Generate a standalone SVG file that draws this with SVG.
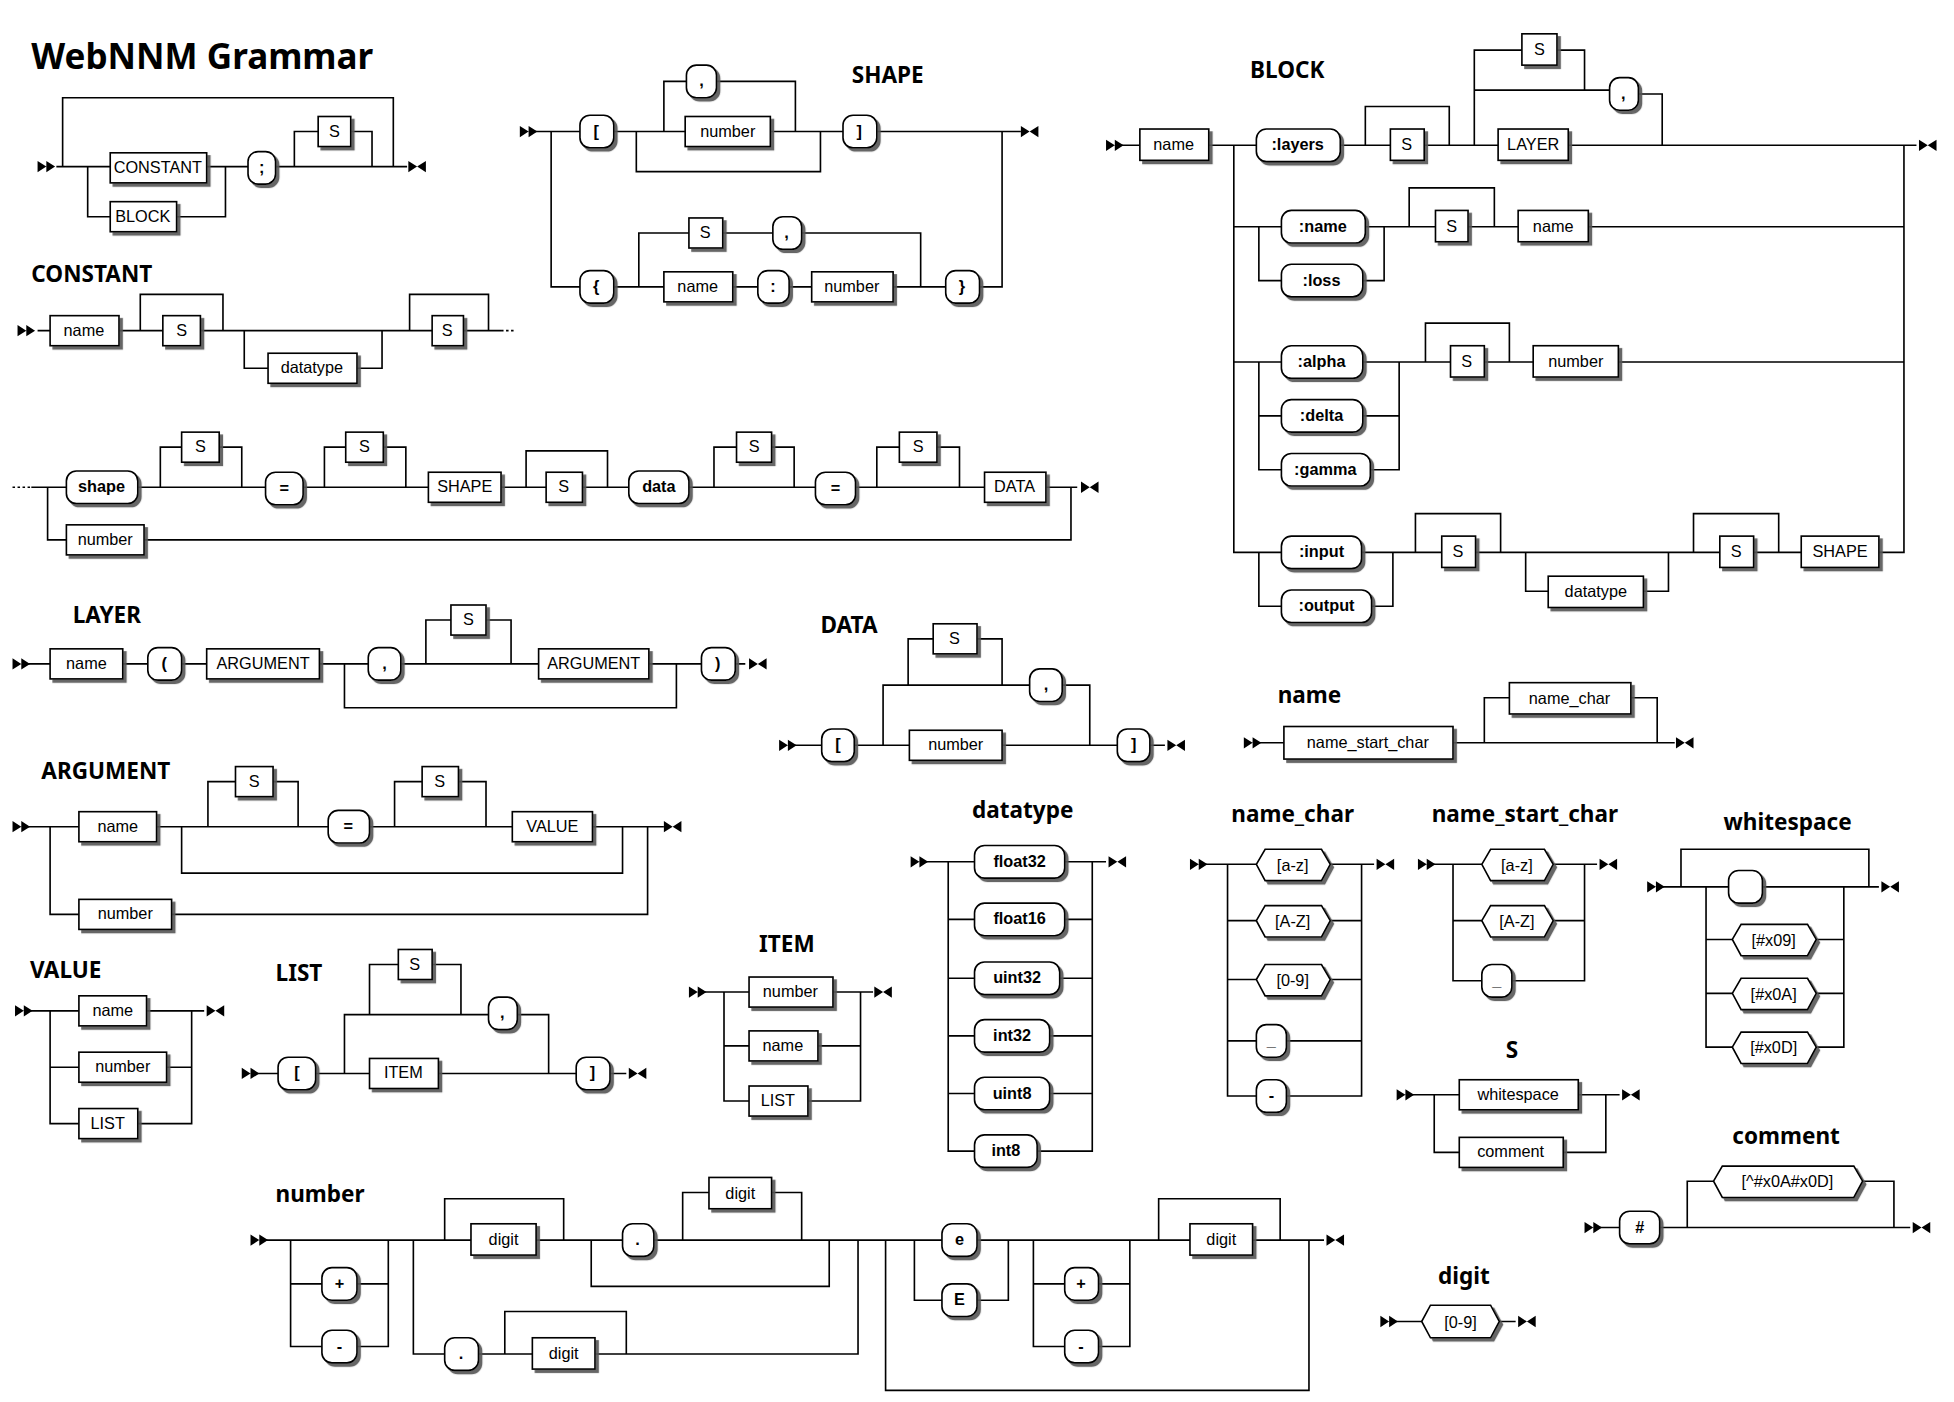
<svg xmlns="http://www.w3.org/2000/svg" width="1954" height="1402" viewBox="0 0 1954 1402">
<style>
.n rect,.t rect,.h polygon{fill:#fff;stroke:#000;stroke-width:1.3;filter:url(#sh)}
.t rect{rx:8;ry:8}
.n text,.h text{font:13px "Liberation Sans",Arial,sans-serif;text-anchor:middle;fill:#000}
.t text{font:bold 13px "Liberation Sans",Arial,sans-serif;text-anchor:middle;fill:#000}
.hd{font:bold 18px "Noto Sans","Liberation Sans",sans-serif;fill:#000}
#connectors path{fill:none;stroke:#000;stroke-width:1.3}
</style>
<defs>
<filter id="sh" x="-20%" y="-20%" width="150%" height="160%"><feDropShadow dx="2.5" dy="2.5" stdDeviation="0.6" flood-color="#555" flood-opacity="0.9"/></filter>
<path id="st" d="M0,-4.5 L7,0 L0,4.5Z M7,-4.5 L14,0 L7,4.5Z"/>
<path id="en" d="M0,-4.5 L7,0 L0,4.5Z M14,-4.5 L7,0 L14,4.5Z"/>
</defs>
<rect width="1954" height="1402" fill="#fff"/>
<g transform="scale(1.2526)">
<text x="25" y="55" style="font:bold 28px 'Noto Sans','Liberation Sans',sans-serif">WebNNM Grammar</text>
<g id="headings">
<text class="hd" x="25" y="225">CONSTANT</text>
<text class="hd" x="680" y="66">SHAPE</text>
<text class="hd" x="998" y="62">BLOCK</text>
<text class="hd" x="58" y="497">LAYER</text>
<text class="hd" x="655" y="505">DATA</text>
<text class="hd" x="1020" y="561">name</text>
<text class="hd" x="33" y="622">ARGUMENT</text>
<text class="hd" x="24" y="781">VALUE</text>
<text class="hd" x="220" y="783">LIST</text>
<text class="hd" x="606" y="760">ITEM</text>
<text class="hd" x="776" y="653">datatype</text>
<text class="hd" x="983" y="656">name_char</text>
<text class="hd" x="1143" y="656">name_start_char</text>
<text class="hd" x="1376" y="663">whitespace</text>
<text class="hd" x="1202" y="845">S</text>
<text class="hd" x="1383" y="913">comment</text>
<text class="hd" x="1148" y="1025">digit</text>
<text class="hd" x="220" y="960">number</text>
</g>
<g id="connectors">
<path d="M45,133 H88 M165,133 H198 M220,133 H325 M70,133 V173 H88 M141,173 H180 V133 M235,133 V105 H254 M280,105 H297 V133 M314,133 V78 H50 V133"/>
<path d="M400,264 H412" stroke-dasharray="2,2"/>
<path d="M30,264 H40 M95,264 H130 M160,264 H345 M370,264 H400 M112,264 V235 H178 V264 M195,264 V294 H214 M285,294 H305 V264 M327,264 V235 H390 V264"/>
<path d="M10,389 H25" stroke-dasharray="2,2"/>
<path d="M25,389 H53 M110,389 H212 M242,389 H342 M400,389 H436 M465,389 H502 M550,389 H651 M683,389 H786 M835,389 H860 M128,389 V357 H145 M175,357 H193 V389 M259,389 V357 H276 M306,357 H324 V389 M420,389 V360 H485 V389 M570,389 V357 H588 M616,357 H634 V389 M700,389 V357 H718 M748,357 H766 V389 M38,389 V431 H53 M115,431 H855 V389"/>
<path d="M427,105 H463 M490,105 H547 M615,105 H673 M700,105 H815 M440,105 V229 H463 M490,229 H530 M585,229 H605 M630,229 H648 M713,229 H755 M782,229 H800 V105 M530,105 V65 H548 M572,65 H635 V105 M508,105 V137 H655 V105 M510,229 V186 H550 M577,186 H617 M640,186 H735 V229"/>
<path d="M895,116 H910 M965,116 H1003 M1070,116 H1110 M1137,116 H1196 M1252,116 H1530 M1090,116 V85 H1157 V116 M1177,116 V72 H1215 M1177,72 V40 H1215 M1243,40 H1265 V72 M1177,72 H1285 M1308,75 H1327 V116 M1177,72 V116 M985,116 V441 H1023 M985,181 H1023 M1090,181 H1146 M1172,181 H1212 M1268,181 H1520 M1005,181 V224 H1023 M1088,224 H1105 V181 M1125,181 V150 H1193 V181 M985,289 H1023 M1088,289 H1158 M1185,289 H1224 M1292,289 H1520 M1005,289 V375 H1023 M1005,332 H1023 M1088,332 H1117 M1094,375 H1117 V289 M1138,289 V258 H1205 V289 M1087,441 H1151 M1178,441 H1373 M1400,441 H1438 M1500,441 H1520 V116 M1005,441 V484 H1023 M1095,484 H1112 V441 M1130,441 V410 H1198 V441 M1218,441 V472 H1236 M1312,472 H1332 V441 M1352,441 V410 H1420 V441"/>
<path d="M22,530 H40 M98,530 H118 M145,530 H165 M255,530 H294 M320,530 H430 M518,530 H560 M587,530 H595 M340,530 V495 H360 M388,495 H408 V530 M275,530 V565 H540 V530"/>
<path d="M634,595 H656 M682,595 H726 M800,595 H892 M918,595 H930 M705,595 V547 H822 M848,547 H870 V595 M725,547 V510 H745 M780,510 H800 V547"/>
<path d="M1005,593 H1025 M1160,593 H1337 M1185,593 V557 H1205 M1302,557 H1323 V593"/>
<path d="M22,660 H63 M125,660 H262 M295,660 H409 M473,660 H530 M145,660 V697 H497 V660 M166,660 V624 H188 M218,624 H238 V660 M315,660 V624 H337 M366,624 H388 V660 M40,660 V730 H63 M137,730 H517 V660"/>
<path d="M24,807 H63 M117,807 H163 M40,807 V897 H63 M133,852 H153 M40,852 H63 M110,897 H153 V807"/>
<path d="M205,857 H222 M252,857 H295 M350,857 H460 M487,857 H500 M275,857 V810 H390 M413,810 H438 V857 M295,810 V770 H318 M345,770 H368 V810"/>
<path d="M562,792 H598 M665,792 H697 M578,792 V879 H598 M578,835 H598 M653,835 H687 M645,879 H687 V792"/>
<path d="M739,688 H778 M850,688 H883 M757,688 V919 H778 M757,734 H778 M757,781 H778 M757,827 H778 M757,873 H778 M850,734 H872 M846,781 H872 M838,827 H872 M838,873 H872 M828,919 H872 V688"/>
<path d="M962,690 H1003 M1062,690 H1097 M980,690 V875 H1003 M980,735 H1003 M980,782 H1003 M980,831 H1003 M1062,735 H1087 M1062,782 H1087 M1027,831 H1087 M1027,875 H1087 V690"/>
<path d="M1144,690 H1183 M1240,690 H1275 M1160,690 V783 H1183 M1160,735 H1183 M1240,735 H1265 M1207,783 H1265 V690"/>
<path d="M1327,708 H1380 M1407,708 H1500 M1342,708 V678 H1492 V708 M1362,708 V836 H1383 M1362,750 H1383 M1362,793 H1383 M1450,750 H1472 M1450,793 H1472 M1450,836 H1472 V708"/>
<path d="M1127,874 H1165 M1260,874 H1293 M1145,874 V920 H1165 M1248,920 H1282 V874"/>
<path d="M1277,980 H1293 M1325,980 H1525 M1347,980 V943 H1368 M1487,943 H1512 V980"/>
<path d="M1114,1055 H1135 M1197,1055 H1210"/>
<path d="M212,990 H376 M428,990 H497 M522,990 H752 M780,990 H950 M1000,990 H1057 M232,990 V1075 H257 M232,1025 H257 M285,1025 H310 M285,1075 H310 V990 M355,990 V957 H450 V990 M472,990 V1027 H662 V990 M545,990 V952 H566 M616,952 H640 V990 M330,990 V1081 H355 M382,1081 H425 M475,1081 H685 V990 M403,1081 V1047 H500 V1081 M730,990 V1038 H752 M780,1038 H805 V990 M825,990 V1075 H850 M825,1025 H850 M877,1025 H902 M877,1075 H902 V990 M925,990 V957 H1022 V990 M707,990 V1110 H1045 V990"/>
</g>
<g id="markers">
<use href="#st" x="30" y="133"/><use href="#en" x="326" y="133"/>
<use href="#st" x="14" y="264"/><use href="#en" x="863" y="389"/>
<use href="#st" x="415" y="105"/><use href="#en" x="815" y="105"/>
<use href="#st" x="883" y="116"/><use href="#en" x="1532" y="116"/>
<use href="#st" x="10" y="530"/><use href="#en" x="598" y="530"/>
<use href="#st" x="622" y="595"/><use href="#en" x="932" y="595"/>
<use href="#st" x="993" y="593"/><use href="#en" x="1338" y="593"/>
<use href="#st" x="10" y="660"/><use href="#en" x="530" y="660"/>
<use href="#st" x="12" y="807"/><use href="#en" x="165" y="807"/>
<use href="#st" x="193" y="857"/><use href="#en" x="502" y="857"/>
<use href="#st" x="550" y="792"/><use href="#en" x="698" y="792"/>
<use href="#st" x="727" y="688"/><use href="#en" x="885" y="688"/>
<use href="#st" x="950" y="690"/><use href="#en" x="1099" y="690"/>
<use href="#st" x="1132" y="690"/><use href="#en" x="1277" y="690"/>
<use href="#st" x="1315" y="708"/><use href="#en" x="1502" y="708"/>
<use href="#st" x="1115" y="874"/><use href="#en" x="1295" y="874"/>
<use href="#st" x="1265" y="980"/><use href="#en" x="1527" y="980"/>
<use href="#st" x="1102" y="1055"/><use href="#en" x="1212" y="1055"/>
<use href="#st" x="200" y="990"/><use href="#en" x="1059" y="990"/>
</g>
<g id="g1-constant" class="n"><rect x="88" y="122" width="77" height="24"/><text x="126" y="138">CONSTANT</text></g>
<g id="g1-block" class="n"><rect x="88" y="161" width="53" height="24"/><text x="114" y="177">BLOCK</text></g>
<g id="g1-semi" class="t"><rect x="198" y="121" width="22" height="26"/><text x="209" y="138">;</text></g>
<g id="g1-s" class="n"><rect x="254" y="93" width="26" height="24"/><text x="267" y="109">S</text></g>
<g id="c-name" class="n"><rect x="40" y="252" width="55" height="24"/><text x="67" y="268">name</text></g>
<g id="c-s1" class="n"><rect x="130" y="252" width="30" height="24"/><text x="145" y="268">S</text></g>
<g id="c-datatype" class="n"><rect x="214" y="282" width="71" height="24"/><text x="249" y="298">datatype</text></g>
<g id="c-s2" class="n"><rect x="345" y="252" width="25" height="24"/><text x="357" y="268">S</text></g>
<g id="c-shape" class="t"><rect x="53" y="376" width="57" height="26"/><text x="81" y="393">shape</text></g>
<g id="c-s3" class="n"><rect x="145" y="345" width="30" height="24"/><text x="160" y="361">S</text></g>
<g id="c-eq1" class="t"><rect x="212" y="377" width="30" height="26"/><text x="227" y="394">=</text></g>
<g id="c-s4" class="n"><rect x="276" y="345" width="30" height="24"/><text x="291" y="361">S</text></g>
<g id="c-SHAPE" class="n"><rect x="342" y="377" width="58" height="24"/><text x="371" y="393">SHAPE</text></g>
<g id="c-s5" class="n"><rect x="436" y="377" width="29" height="24"/><text x="450" y="393">S</text></g>
<g id="c-data" class="t"><rect x="502" y="376" width="48" height="26"/><text x="526" y="393">data</text></g>
<g id="c-s6" class="n"><rect x="588" y="345" width="28" height="24"/><text x="602" y="361">S</text></g>
<g id="c-eq2" class="t"><rect x="651" y="377" width="32" height="26"/><text x="667" y="394">=</text></g>
<g id="c-s7" class="n"><rect x="718" y="345" width="30" height="24"/><text x="733" y="361">S</text></g>
<g id="c-DATA" class="n"><rect x="786" y="377" width="49" height="24"/><text x="810" y="393">DATA</text></g>
<g id="c-number" class="n"><rect x="53" y="419" width="62" height="24"/><text x="84" y="435">number</text></g>
<g id="s-lb" class="t"><rect x="463" y="92" width="27" height="26"/><text x="476" y="109">[</text></g>
<g id="s-comma1" class="t"><rect x="548" y="52" width="24" height="26"/><text x="560" y="69">,</text></g>
<g id="s-number1" class="n"><rect x="547" y="93" width="68" height="24"/><text x="581" y="109">number</text></g>
<g id="s-rb" class="t"><rect x="673" y="92" width="27" height="26"/><text x="686" y="109">]</text></g>
<g id="s-lc" class="t"><rect x="463" y="216" width="27" height="26"/><text x="476" y="233">{</text></g>
<g id="s-s" class="n"><rect x="550" y="174" width="27" height="24"/><text x="563" y="190">S</text></g>
<g id="s-comma2" class="t"><rect x="617" y="173" width="23" height="26"/><text x="628" y="190">,</text></g>
<g id="s-name" class="n"><rect x="530" y="217" width="55" height="24"/><text x="557" y="233">name</text></g>
<g id="s-colon" class="t"><rect x="605" y="216" width="25" height="26"/><text x="617" y="233">:</text></g>
<g id="s-number2" class="n"><rect x="648" y="217" width="65" height="24"/><text x="680" y="233">number</text></g>
<g id="s-rc" class="t"><rect x="755" y="216" width="27" height="26"/><text x="768" y="233">}</text></g>
<g id="b-name" class="n"><rect x="910" y="103" width="55" height="25"/><text x="937" y="120">name</text></g>
<g id="b-layers" class="t"><rect x="1003" y="103" width="67" height="26"/><text x="1036" y="120">:layers</text></g>
<g id="b-s1" class="n"><rect x="1110" y="103" width="27" height="25"/><text x="1123" y="120">S</text></g>
<g id="b-LAYER" class="n"><rect x="1196" y="103" width="56" height="25"/><text x="1224" y="120">LAYER</text></g>
<g id="b-s2" class="n"><rect x="1215" y="27" width="28" height="25"/><text x="1229" y="44">S</text></g>
<g id="b-comma" class="t"><rect x="1285" y="62" width="23" height="26"/><text x="1296" y="79">,</text></g>
<g id="b-cname" class="t"><rect x="1023" y="168" width="67" height="26"/><text x="1056" y="185">:name</text></g>
<g id="b-loss" class="t"><rect x="1023" y="211" width="65" height="26"/><text x="1055" y="228">:loss</text></g>
<g id="b-s3" class="n"><rect x="1146" y="168" width="26" height="25"/><text x="1159" y="185">S</text></g>
<g id="b-name2" class="n"><rect x="1212" y="168" width="56" height="25"/><text x="1240" y="185">name</text></g>
<g id="b-alpha" class="t"><rect x="1023" y="276" width="65" height="26"/><text x="1055" y="293">:alpha</text></g>
<g id="b-delta" class="t"><rect x="1023" y="319" width="65" height="26"/><text x="1055" y="336">:delta</text></g>
<g id="b-gamma" class="t"><rect x="1023" y="362" width="71" height="26"/><text x="1058" y="379">:gamma</text></g>
<g id="b-s4" class="n"><rect x="1158" y="276" width="27" height="25"/><text x="1171" y="293">S</text></g>
<g id="b-number" class="n"><rect x="1224" y="276" width="68" height="25"/><text x="1258" y="293">number</text></g>
<g id="b-input" class="t"><rect x="1023" y="428" width="64" height="26"/><text x="1055" y="445">:input</text></g>
<g id="b-output" class="t"><rect x="1023" y="471" width="72" height="26"/><text x="1059" y="488">:output</text></g>
<g id="b-s5" class="n"><rect x="1151" y="428" width="27" height="25"/><text x="1164" y="445">S</text></g>
<g id="b-datatype" class="n"><rect x="1236" y="460" width="76" height="25"/><text x="1274" y="477">datatype</text></g>
<g id="b-s6" class="n"><rect x="1373" y="428" width="27" height="25"/><text x="1386" y="445">S</text></g>
<g id="b-SHAPE" class="n"><rect x="1438" y="428" width="62" height="25"/><text x="1469" y="445">SHAPE</text></g>
<g id="l-name" class="n"><rect x="40" y="518" width="58" height="24"/><text x="69" y="534">name</text></g>
<g id="l-lp" class="t"><rect x="118" y="517" width="27" height="26"/><text x="131" y="534">(</text></g>
<g id="l-arg1" class="n"><rect x="165" y="518" width="90" height="24"/><text x="210" y="534">ARGUMENT</text></g>
<g id="l-comma" class="t"><rect x="294" y="517" width="26" height="26"/><text x="307" y="534">,</text></g>
<g id="l-s" class="n"><rect x="360" y="483" width="28" height="24"/><text x="374" y="499">S</text></g>
<g id="l-arg2" class="n"><rect x="430" y="518" width="88" height="24"/><text x="474" y="534">ARGUMENT</text></g>
<g id="l-rp" class="t"><rect x="560" y="517" width="27" height="26"/><text x="573" y="534">)</text></g>
<g id="d-lb" class="t"><rect x="656" y="582" width="26" height="26"/><text x="669" y="599">[</text></g>
<g id="d-s" class="n"><rect x="745" y="498" width="35" height="24"/><text x="762" y="514">S</text></g>
<g id="d-comma" class="t"><rect x="822" y="534" width="26" height="26"/><text x="835" y="551">,</text></g>
<g id="d-number" class="n"><rect x="726" y="583" width="74" height="24"/><text x="763" y="599">number</text></g>
<g id="d-rb" class="t"><rect x="892" y="582" width="26" height="26"/><text x="905" y="599">]</text></g>
<g id="n-nsc" class="n"><rect x="1025" y="580" width="135" height="26"/><text x="1092" y="597">name_start_char</text></g>
<g id="n-nc" class="n"><rect x="1205" y="545" width="97" height="25"/><text x="1253" y="562">name_char</text></g>
<g id="a-name" class="n"><rect x="63" y="648" width="62" height="24"/><text x="94" y="664">name</text></g>
<g id="a-s1" class="n"><rect x="188" y="612" width="30" height="24"/><text x="203" y="628">S</text></g>
<g id="a-eq" class="t"><rect x="262" y="647" width="33" height="26"/><text x="278" y="664">=</text></g>
<g id="a-s2" class="n"><rect x="337" y="612" width="29" height="24"/><text x="351" y="628">S</text></g>
<g id="a-value" class="n"><rect x="409" y="648" width="64" height="24"/><text x="441" y="664">VALUE</text></g>
<g id="a-number" class="n"><rect x="63" y="718" width="74" height="24"/><text x="100" y="734">number</text></g>
<g id="v-name" class="n"><rect x="63" y="795" width="54" height="24"/><text x="90" y="811">name</text></g>
<g id="v-number" class="n"><rect x="63" y="840" width="70" height="24"/><text x="98" y="856">number</text></g>
<g id="v-list" class="n"><rect x="63" y="885" width="47" height="24"/><text x="86" y="901">LIST</text></g>
<g id="li-lb" class="t"><rect x="222" y="844" width="30" height="26"/><text x="237" y="861">[</text></g>
<g id="li-s" class="n"><rect x="318" y="758" width="27" height="24"/><text x="331" y="774">S</text></g>
<g id="li-comma" class="t"><rect x="390" y="796" width="23" height="26"/><text x="401" y="813">,</text></g>
<g id="li-item" class="n"><rect x="295" y="845" width="55" height="24"/><text x="322" y="861">ITEM</text></g>
<g id="li-rb" class="t"><rect x="460" y="844" width="27" height="26"/><text x="473" y="861">]</text></g>
<g id="i-number" class="n"><rect x="598" y="780" width="67" height="24"/><text x="631" y="796">number</text></g>
<g id="i-name" class="n"><rect x="598" y="823" width="55" height="24"/><text x="625" y="839">name</text></g>
<g id="i-list" class="n"><rect x="598" y="867" width="47" height="24"/><text x="621" y="883">LIST</text></g>
<g id="dt-f32" class="t"><rect x="778" y="675" width="72" height="26"/><text x="814" y="692">float32</text></g>
<g id="dt-f16" class="t"><rect x="778" y="721" width="72" height="26"/><text x="814" y="738">float16</text></g>
<g id="dt-u32" class="t"><rect x="778" y="768" width="68" height="26"/><text x="812" y="785">uint32</text></g>
<g id="dt-i32" class="t"><rect x="778" y="814" width="60" height="26"/><text x="808" y="831">int32</text></g>
<g id="dt-u8" class="t"><rect x="778" y="860" width="60" height="26"/><text x="808" y="877">uint8</text></g>
<g id="dt-i8" class="t"><rect x="778" y="906" width="50" height="26"/><text x="803" y="923">int8</text></g>
<g id="nc-az" class="h"><polygon points="1003,690 1010,678 1055,678 1062,690 1055,703 1010,703"/><text x="1032" y="695">[a-z]</text></g>
<g id="nc-AZ" class="h"><polygon points="1003,735 1010,723 1055,723 1062,735 1055,748 1010,748"/><text x="1032" y="740">[A-Z]</text></g>
<g id="nc-09" class="h"><polygon points="1003,782 1010,770 1055,770 1062,782 1055,795 1010,795"/><text x="1032" y="787">[0-9]</text></g>
<g id="nc-us" class="t"><rect x="1003" y="818" width="24" height="26"/><text x="1015" y="835">_</text></g>
<g id="nc-dash" class="t"><rect x="1003" y="862" width="24" height="26"/><text x="1015" y="879">-</text></g>
<g id="ns-az" class="h"><polygon points="1183,690 1190,678 1233,678 1240,690 1233,703 1190,703"/><text x="1211" y="695">[a-z]</text></g>
<g id="ns-AZ" class="h"><polygon points="1183,735 1190,723 1233,723 1240,735 1233,748 1190,748"/><text x="1211" y="740">[A-Z]</text></g>
<g id="ns-us" class="t"><rect x="1183" y="770" width="24" height="26"/><text x="1195" y="787">_</text></g>
<g id="w-sp" class="t"><rect x="1380" y="695" width="27" height="26"/><text x="1393" y="712"> </text></g>
<g id="w-09" class="h"><polygon points="1383,750 1390,738 1443,738 1450,750 1443,763 1390,763"/><text x="1416" y="755">[#x09]</text></g>
<g id="w-0a" class="h"><polygon points="1383,793 1390,781 1443,781 1450,793 1443,806 1390,806"/><text x="1416" y="798">[#x0A]</text></g>
<g id="w-0d" class="h"><polygon points="1383,836 1390,824 1443,824 1450,836 1443,849 1390,849"/><text x="1416" y="841">[#x0D]</text></g>
<g id="S-ws" class="n"><rect x="1165" y="862" width="95" height="24"/><text x="1212" y="878">whitespace</text></g>
<g id="S-c" class="n"><rect x="1165" y="908" width="83" height="24"/><text x="1206" y="924">comment</text></g>
<g id="cm-hash" class="t"><rect x="1293" y="967" width="32" height="26"/><text x="1309" y="984">#</text></g>
<g id="cm-cls" class="h"><polygon points="1368,943 1375,931 1480,931 1487,943 1480,956 1375,956"/><text x="1427" y="948">[^#x0A#x0D]</text></g>
<g id="dg-09" class="h"><polygon points="1135,1055 1142,1042 1190,1042 1197,1055 1190,1068 1142,1068"/><text x="1166" y="1060">[0-9]</text></g>
<g id="nm-plus1" class="t"><rect x="257" y="1012" width="28" height="26"/><text x="271" y="1029">+</text></g>
<g id="nm-minus1" class="t"><rect x="257" y="1062" width="28" height="26"/><text x="271" y="1079">-</text></g>
<g id="nm-digit1" class="n"><rect x="376" y="977" width="52" height="25"/><text x="402" y="994">digit</text></g>
<g id="nm-dot1" class="t"><rect x="497" y="977" width="25" height="26"/><text x="509" y="994">.</text></g>
<g id="nm-digit2" class="n"><rect x="566" y="940" width="50" height="25"/><text x="591" y="957">digit</text></g>
<g id="nm-dot2" class="t"><rect x="355" y="1068" width="27" height="26"/><text x="368" y="1085">.</text></g>
<g id="nm-digit3" class="n"><rect x="425" y="1068" width="50" height="25"/><text x="450" y="1085">digit</text></g>
<g id="nm-e" class="t"><rect x="752" y="977" width="28" height="26"/><text x="766" y="994">e</text></g>
<g id="nm-E" class="t"><rect x="752" y="1025" width="28" height="26"/><text x="766" y="1042">E</text></g>
<g id="nm-plus2" class="t"><rect x="850" y="1012" width="27" height="26"/><text x="863" y="1029">+</text></g>
<g id="nm-minus2" class="t"><rect x="850" y="1062" width="27" height="26"/><text x="863" y="1079">-</text></g>
<g id="nm-digit4" class="n"><rect x="950" y="977" width="50" height="25"/><text x="975" y="994">digit</text></g>
</g>
</svg>
